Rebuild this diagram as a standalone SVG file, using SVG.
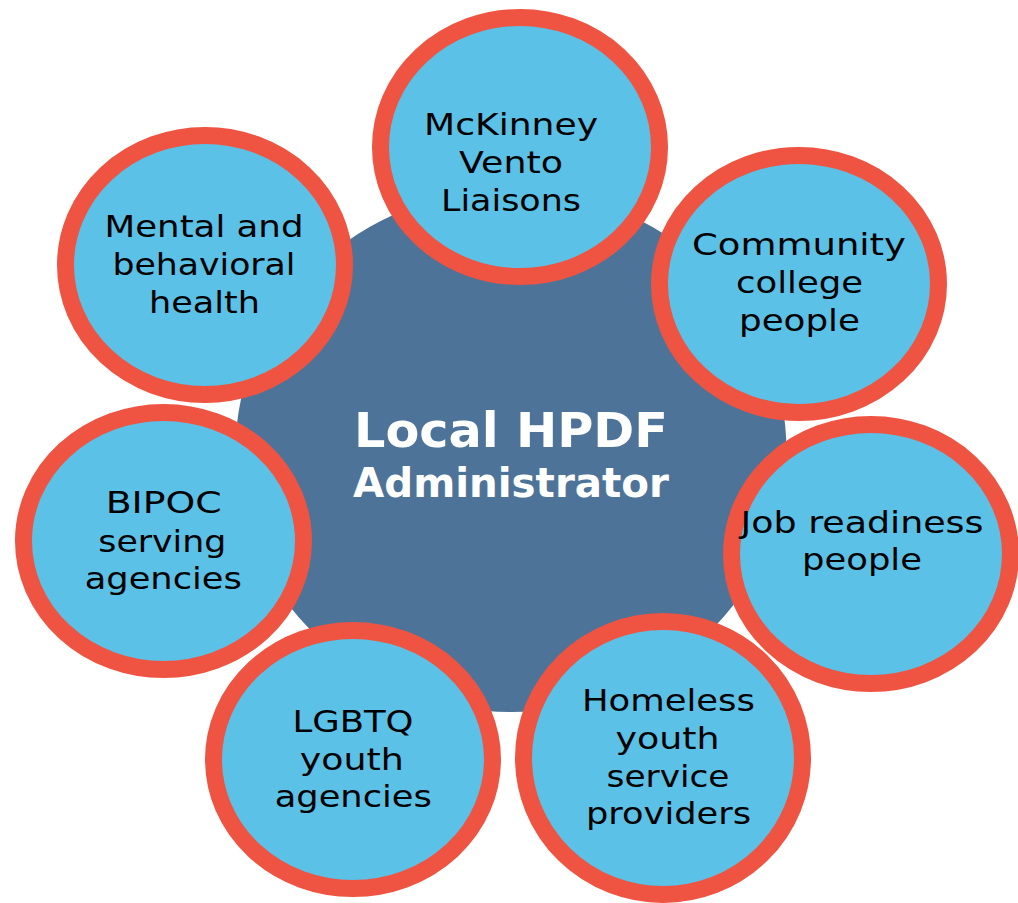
<svg xmlns="http://www.w3.org/2000/svg" width="1018" height="903" viewBox="0 0 1018 903">
<style>
.ring{fill:#5BC1E6;stroke:#EE5441;stroke-width:17}
.lbl{font-family:"DejaVu Sans","Open Sans",sans-serif;font-size:31px;fill:#000;text-anchor:middle}
.ctr{font-family:"DejaVu Sans","Open Sans",sans-serif;font-weight:bold;fill:#fff;text-anchor:middle}
</style>
<rect width="1018" height="903" fill="#fff"/>
<g id="center">
<ellipse cx="511" cy="451" rx="275.5" ry="261" fill="#4E7399"/>
<text class="ctr" x="511" y="447" font-size="48" textLength="314" lengthAdjust="spacingAndGlyphs">Local HPDF</text>
<text class="ctr" x="511" y="497" font-size="41" textLength="316" lengthAdjust="spacingAndGlyphs">Administrator</text>
</g>
<g id="connectors"></g>
<g id="mental">
<ellipse class="ring" cx="205" cy="265" rx="139.5" ry="129.5"/>
<text class="lbl" x="204" y="237" textLength="199" lengthAdjust="spacingAndGlyphs">Mental and</text>
<text class="lbl" x="204" y="275" textLength="183" lengthAdjust="spacingAndGlyphs">behavioral</text>
<text class="lbl" x="204.5" y="313" textLength="111" lengthAdjust="spacingAndGlyphs">health</text>
</g>
<g id="mckinney">
<ellipse class="ring" cx="520" cy="147" rx="139.5" ry="129.5"/>
<text class="lbl" x="511" y="135" textLength="174" lengthAdjust="spacingAndGlyphs">McKinney</text>
<text class="lbl" x="511" y="172.7" textLength="104" lengthAdjust="spacingAndGlyphs">Vento</text>
<text class="lbl" x="511" y="210.7" textLength="140" lengthAdjust="spacingAndGlyphs">Liaisons</text>
</g>
<g id="community">
<ellipse class="ring" cx="799" cy="284" rx="139.5" ry="128.5"/>
<text class="lbl" x="799" y="255" textLength="214" lengthAdjust="spacingAndGlyphs">Community</text>
<text class="lbl" x="799.5" y="293" textLength="127" lengthAdjust="spacingAndGlyphs">college</text>
<text class="lbl" x="799.5" y="331" textLength="121" lengthAdjust="spacingAndGlyphs">people</text>
</g>
<g id="job">
<ellipse class="ring" cx="871" cy="554" rx="139.5" ry="129.5"/>
<text class="lbl" x="862" y="533" textLength="243" lengthAdjust="spacingAndGlyphs">Job readiness</text>
<text class="lbl" x="862" y="570" textLength="120" lengthAdjust="spacingAndGlyphs">people</text>
</g>
<g id="homeless">
<ellipse class="ring" cx="663" cy="758" rx="139.5" ry="136.5"/>
<text class="lbl" x="668.5" y="711" textLength="173" lengthAdjust="spacingAndGlyphs">Homeless</text>
<text class="lbl" x="667.5" y="749" textLength="104" lengthAdjust="spacingAndGlyphs">youth</text>
<text class="lbl" x="668" y="786.5" textLength="123" lengthAdjust="spacingAndGlyphs">service</text>
<text class="lbl" x="668.5" y="824" textLength="165" lengthAdjust="spacingAndGlyphs">providers</text>
</g>
<g id="lgbtq">
<ellipse class="ring" cx="353" cy="759.5" rx="139.5" ry="129"/>
<text class="lbl" x="353" y="732" textLength="121" lengthAdjust="spacingAndGlyphs">LGBTQ</text>
<text class="lbl" x="351.7" y="769.5" textLength="104" lengthAdjust="spacingAndGlyphs">youth</text>
<text class="lbl" x="353.3" y="807" textLength="157" lengthAdjust="spacingAndGlyphs">agencies</text>
</g>
<g id="bipoc">
<ellipse class="ring" cx="163.5" cy="541" rx="140" ry="128.5"/>
<text class="lbl" x="163.7" y="513" textLength="116" lengthAdjust="spacingAndGlyphs">BIPOC</text>
<text class="lbl" x="162.3" y="551.5" textLength="128" lengthAdjust="spacingAndGlyphs">serving</text>
<text class="lbl" x="163.3" y="589" textLength="157" lengthAdjust="spacingAndGlyphs">agencies</text>
</g>
</svg>
